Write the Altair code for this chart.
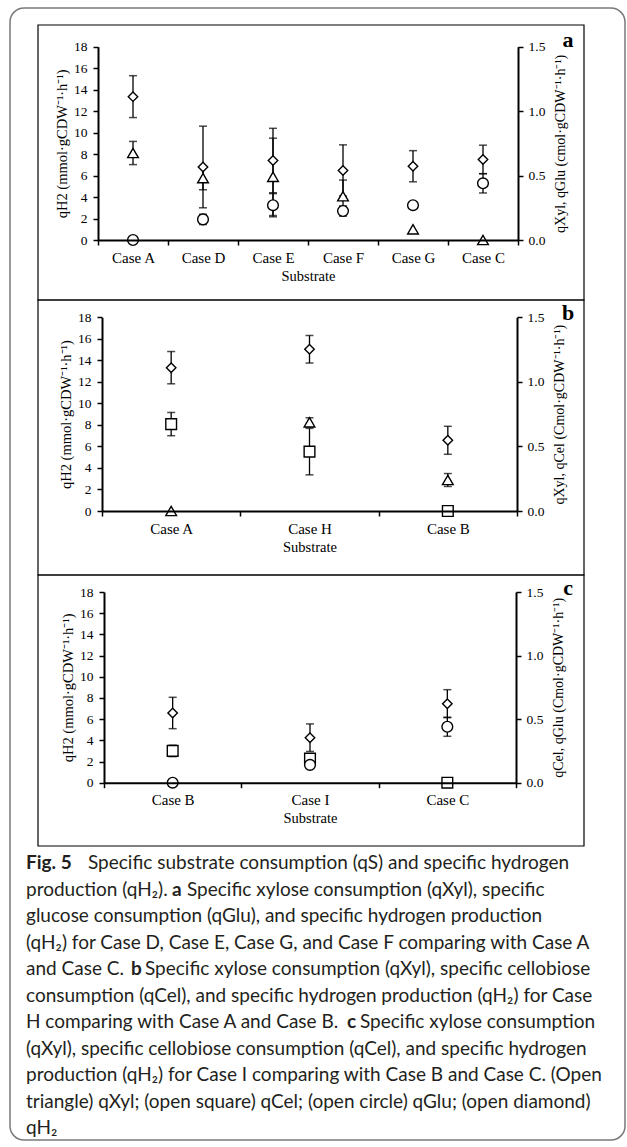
import altair as alt
import pandas as pd

# ---------------- data ----------------
# Panel a: qH2 on left axis (mmol/gCDW/h); qXyl, qGlu on right axis (cmol/gCDW/h)
cases_a = ["Case A", "Case D", "Case E", "Case F", "Case G", "Case C"]
qh2_a = [13.35, 6.8, 7.4, 6.48, 6.87, 7.5]
qh2_a_err = [1.95, 3.8, 3.0, 2.38, 1.45, 1.33]
qxyl_a = [0.675, 0.48, 0.49, 0.34, 0.083, 0.0]
qxyl_a_err = [0.09, 0.09, 0.30, 0.125, 0.0, 0.0]
qglu_a = [0.0, 0.16, 0.27, 0.225, 0.27, 0.44]
qglu_a_err = [0.0, 0.04, 0.09, 0.04, 0.0, 0.075]

# Panel b: qH2 left; qXyl, qCel right
cases_b = ["Case A", "Case H", "Case B"]
qh2_b = [13.32, 15.03, 6.57]
qh2_b_err = [1.5, 1.28, 1.3]
qxyl_b = [0.0, 0.687, 0.24]
qxyl_b_err = [0.0, 0.035, 0.05]
qcel_b = [0.673, 0.46, 0.0]
qcel_b_err = [0.09, 0.18, 0.0]

# Panel c: qH2 left; qCel, qGlu right
cases_c = ["Case B", "Case I", "Case C"]
qh2_c = [6.58, 4.25, 7.46]
qh2_c_err = [1.48, 1.3, 1.32]
qcel_c = [0.25, 0.19, 0.0]
qcel_c_err = [0.045, 0.035, 0.0]
qglu_c = [0.0, 0.14, 0.44]
qglu_c_err = [0.0, 0.015, 0.075]

left_ticks = [0, 2, 4, 6, 8, 10, 12, 14, 16, 18]
right_ticks = [0.0, 0.5, 1.0, 1.5]

left_title = "qH2 (mmol·gCDW⁻¹·h⁻¹)"
right_titles = ["qXyl, qGlu (cmol·gCDW⁻¹·h⁻¹)",
                "qXyl, qCel (Cmol·gCDW⁻¹·h⁻¹)",
                "qCel, qGlu (Cmol·gCDW⁻¹·h⁻¹)"]
letters = ["a", "b", "c"]

caption_lines = [
    [("Fig. 5", True, 26), ("Specific substrate consumption (qS) and specific hydrogen", False, 88)],
    [("production (qH₂).", False, 26), ("a", True, 172), ("Specific xylose consumption (qXyl), specific", False, 187)],
    [("glucose consumption (qGlu), and specific hydrogen production", False, 26)],
    [("(qH₂) for Case D, Case E, Case G, and Case F comparing with Case A", False, 26)],
    [("and Case C.", False, 26), ("b", True, 131), ("Specific xylose consumption (qXyl), specific cellobiose", False, 145)],
    [("consumption (qCel), and specific hydrogen production (qH₂) for Case", False, 26)],
    [("H comparing with Case A and Case B.", False, 26), ("c", True, 347), ("Specific xylose consumption", False, 360)],
    [("(qXyl), specific cellobiose consumption (qCel), and specific hydrogen", False, 26)],
    [("production (qH₂) for Case I comparing with Case B and Case C. (Open", False, 26)],
    [("triangle) qXyl; (open square) qCel; (open circle) qGlu; (open diamond)", False, 26)],
    [("qH₂", False, 26)],
]

# ---------------- layout ----------------
W, H = 627, 1147
SERIF = "Liberation Serif"
SANS = "Lato"

panels = [
    dict(cases=cases_a, h2=(qh2_a, qh2_a_err),
         right=[("qXyl", qxyl_a, qxyl_a_err), ("qGlu", qglu_a, qglu_a_err)],
         xr=(98, 518), yr=(240, 46.7), box=(25, 300), letter_y=40),
    dict(cases=cases_b, h2=(qh2_b, qh2_b_err),
         right=[("qXyl", qxyl_b, qxyl_b_err), ("qCel", qcel_b, qcel_b_err)],
         xr=(102, 517), yr=(511, 317.3), box=(300, 575), letter_y=313),
    dict(cases=cases_c, h2=(qh2_c, qh2_c_err),
         right=[("qCel", qcel_c, qcel_c_err), ("qGlu", qglu_c, qglu_c_err)],
         xr=(104, 516), yr=(782.7, 592), box=(575, 846), letter_y=588),
]

axis_common = dict(domainColor="black", domainWidth=2, tickColor="black", tickWidth=1.5,
                   tickSize=5, labelColor="black", titleColor="black", grid=False, zindex=2,
                   labelFont=SERIF, titleFont=SERIF, titleFontWeight="normal")

shape_scale = alt.Scale(domain=["qXyl", "qCel", "qGlu"], range=["triangle-up", "square", "circle"])

one = pd.DataFrame({"k": [0]})
layers = []

# outer rounded frame
layers.append(alt.Chart(one).mark_rect(cornerRadius=14, fillOpacity=0, stroke="#7a7a7a", strokeWidth=1.5)
              .encode(x=alt.value(10), x2=alt.value(625), y=alt.value(8), y2=alt.value(1140)))

for i, p in enumerate(panels):
    cases = p["cases"]
    x0, x1 = p["xr"]
    y0, y18 = p["yr"]
    # panel box
    layers.append(alt.Chart(one).mark_rect(fillOpacity=0, stroke="black", strokeWidth=1.2)
                  .encode(x=alt.value(38), x2=alt.value(584), y=alt.value(p["box"][0]), y2=alt.value(p["box"][1])))
    # panel letter
    layers.append(alt.Chart(one).mark_text(font=SERIF, fontWeight="bold", fontSize=22, color="black",
                                           align="center", baseline="middle")
                  .encode(x=alt.value(568), y=alt.value(p["letter_y"]), text=alt.value(letters[i])))

    xs = alt.Scale(domain=cases, range=[x0, x1], paddingInner=0, paddingOuter=0)
    ysl = alt.Scale(domain=[0, 18], range=[y0, y18], nice=False, zero=False)
    ysr = alt.Scale(domain=[0, 1.5], range=[y0, y18], nice=False, zero=False)

    vals, errs = p["h2"]
    dl = pd.DataFrame({"case": cases, "v": vals, "e": errs})
    dl["lo"] = dl["v"] - dl["e"]
    dl["hi"] = dl["v"] + dl["e"]
    rows = []
    for name, v, e in p["right"]:
        for c, vv, ee in zip(cases, v, e):
            rows.append({"case": c, "series": name, "v": vv, "e": ee, "lo": vv - ee, "hi": vv + ee})
    dr = pd.DataFrame(rows)

    def caps(df):
        d = df[df["e"] > 0]
        return pd.concat([d.assign(c=d["lo"]), d.assign(c=d["hi"])])

    xn = alt.X("case:N", scale=xs, axis=None)
    # error bars (left)
    layers.append(alt.Chart(dl[dl["e"] > 0]).mark_rule(color="black", strokeWidth=1.3)
                  .encode(x=xn, y=alt.Y("lo:Q", scale=ysl, axis=None), y2="hi:Q"))
    layers.append(alt.Chart(caps(dl)).mark_tick(color="black", size=8, thickness=1.5, orient="horizontal")
                  .encode(x=xn, y=alt.Y("c:Q", scale=ysl, axis=None)))
    # error bars (right)
    layers.append(alt.Chart(dr[dr["e"] > 0]).mark_rule(color="black", strokeWidth=1.3)
                  .encode(x=xn, y=alt.Y("lo:Q", scale=ysr, axis=None), y2="hi:Q"))
    layers.append(alt.Chart(caps(dr)).mark_tick(color="black", size=8, thickness=1.5, orient="horizontal")
                  .encode(x=xn, y=alt.Y("c:Q", scale=ysr, axis=None)))
    # right-axis points
    layers.append(alt.Chart(dr).mark_point(filled=True, fill="white", stroke="black", strokeWidth=1.4,
                                           size=115, opacity=1)
                  .encode(x=xn,
                          y=alt.Y("v:Q", scale=ysr,
                                  axis=alt.Axis(orient="right", offset=x1 - W, values=right_ticks, format=".1f",
                                                title=right_titles[i], titleAngle=270, titleBaseline="top",
                                                titleFontSize=14, labelFontSize=13.5, labelPadding=5,
                                                titlePadding=9, **axis_common)),
                          shape=alt.Shape("series:N", scale=shape_scale, legend=None)))
    # qH2 diamonds with left and bottom axes
    layers.append(alt.Chart(dl).mark_point(filled=True, fill="white", stroke="black", strokeWidth=1.4,
                                           size=90, shape="diamond", opacity=1)
                  .encode(x=alt.X("case:N", scale=xs,
                                  axis=alt.Axis(orient="bottom", offset=y0 - H, title="Substrate",
                                                tickBand="extent", labelAngle=0, labelFontSize=15,
                                                titleFontSize=14.5, labelPadding=5, titlePadding=4,
                                                **axis_common)),
                          y=alt.Y("v:Q", scale=ysl,
                                  axis=alt.Axis(orient="left", offset=-x0, values=left_ticks,
                                                title=left_title, titleFontSize=14.5, labelFontSize=13.5,
                                                labelPadding=6, titlePadding=4, **axis_common))))

# caption
for j, line in enumerate(caption_lines):
    yl = 863 + j * 26.5
    for txt, bold, xx in line:
        layers.append(alt.Chart(one).mark_text(font=SANS, fontSize=19, fontWeight="bold" if bold else "normal",
                                               color="#231f20", align="left", baseline="middle")
                      .encode(x=alt.value(xx), y=alt.value(yl), text=alt.value(txt)))

chart = (alt.layer(*layers)
         .resolve_scale(x="independent", y="independent", shape="independent")
         .properties(width=W, height=H, padding=0, autosize=alt.AutoSizeParams(type="none"))
         .configure(background="white")
         .configure_view(stroke=None))

chart.save("out.html", embed_options={"renderer": "svg", "actions": False})
